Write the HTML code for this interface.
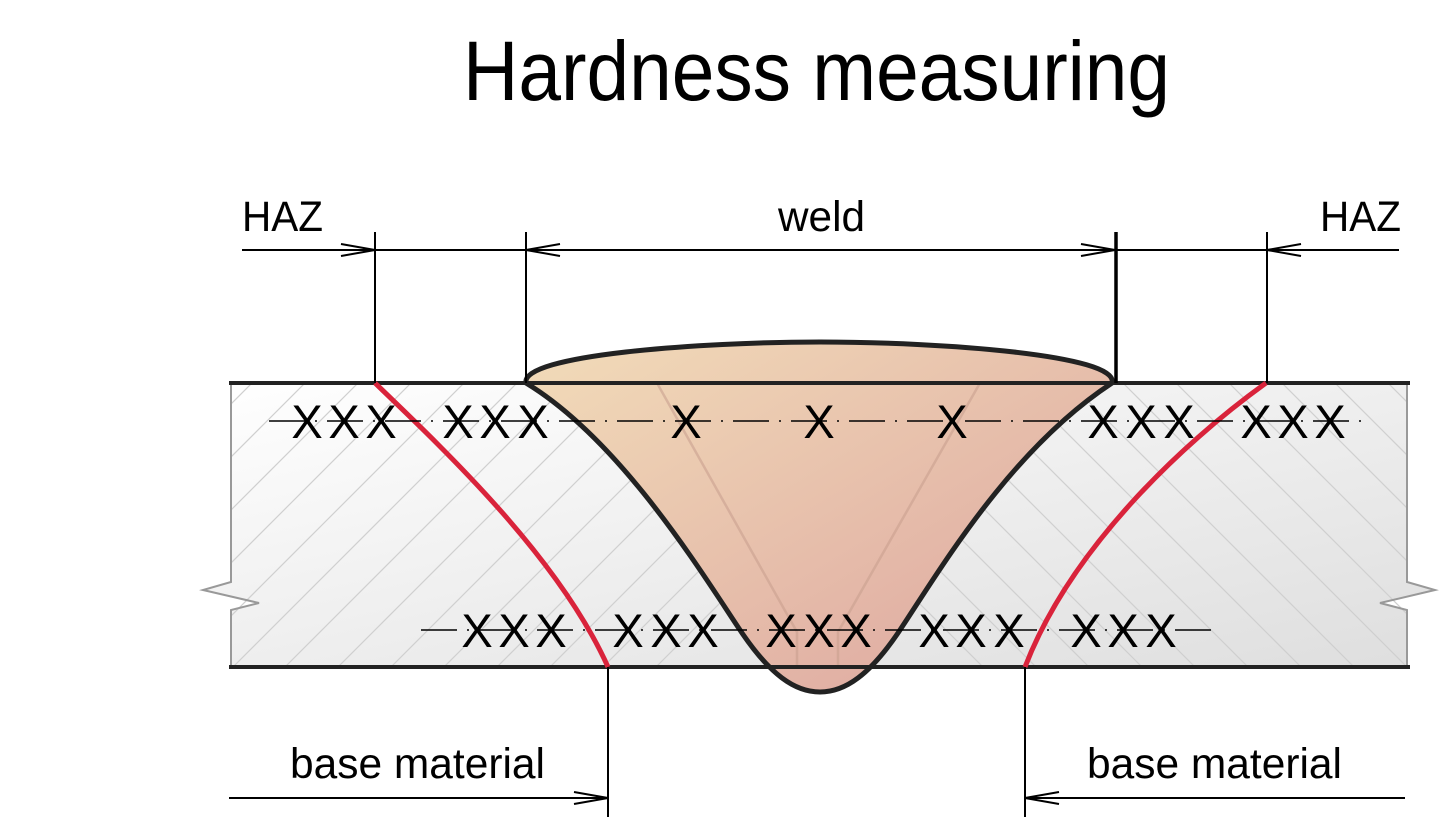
<!DOCTYPE html>
<html><head><meta charset="utf-8"><style>html,body{margin:0;padding:0;background:#fff}svg{display:block}</style></head>
<body>
<svg width="1449" height="835" viewBox="0 0 1449 835" xmlns="http://www.w3.org/2000/svg" font-family="'Liberation Sans', sans-serif">
<defs>
<linearGradient id="pg" x1="0" y1="0" x2="1" y2="1" gradientUnits="objectBoundingBox">
<stop offset="0" stop-color="#ffffff"/><stop offset="1" stop-color="#dedede"/></linearGradient>
<linearGradient id="wg" x1="0" y1="0" x2="1" y2="1">
<stop offset="0" stop-color="#f2dcb9"/><stop offset="1" stop-color="#dca39e"/></linearGradient>
<clipPath id="cl"><rect x="231" y="383" width="589" height="284"/></clipPath>
<clipPath id="cr"><rect x="820" y="383" width="588" height="284"/></clipPath>
</defs>
<!-- plate -->
<path d="M231,383 H1407 V582 L1435,590 L1380,603 L1407,610 V667 H231 V610 L259,603 L203,590 L231,582 Z" fill="url(#pg)"/>
<g stroke="#cfcfcf" stroke-width="1.2" clip-path="url(#cl)">
<path d="M180,720 L540,360 M232,720 L592,360 M285,720 L645,360 M338,720 L698,360 M391,720 L751,360 M444,720 L804,360 M497,720 L857,360 M550,720 L910,360 M603,720 L963,360 M127,720 L487,360 M74,720 L434,360 M21,720 L381,360 M-32,720 L328,360 M-85,720 L275,360"/>
</g>
<g stroke="#cfcfcf" stroke-width="1.2" clip-path="url(#cr)">
<path d="M1460,720 L1100,360 M1407,720 L1047,360 M1354,720 L994,360 M1301,720 L941,360 M1248,720 L888,360 M1195,720 L835,360 M1142,720 L782,360 M1089,720 L729,360 M1036,720 L676,360 M1513,720 L1153,360 M1566,720 L1206,360 M1619,720 L1259,360 M1672,720 L1312,360 M1725,720 L1365,360"/>
</g>
<path d="M231,383 V582 L203,590 L259,603 L231,610 V667 M1407,383 V582 L1435,590 L1380,603 L1407,610 V667" fill="none" stroke="#999" stroke-width="2"/>
<!-- weld -->
<path d="M526,383 C520,355 700,342 820,342 C940,342 1120,355 1112,383 C1010,450 940,570 900,630 C870,675 845,692 820,692 C795,692 770,675 740,630 C700,570 620,440 526,383 Z" fill="url(#wg)"/>
<path d="M526,383 H657 L797,632 V667 H838 V632 L980,383 H1112" fill="none" stroke="#c9a090" stroke-opacity="0.6" stroke-width="2.5"/>
<path d="M229,383 H1410 M229,667 H1410" stroke="#222" stroke-width="4"/>
<path d="M526,383 C520,355 700,342 820,342 C940,342 1120,355 1112,383 C1010,450 940,570 900,630 C870,675 845,692 820,692 C795,692 770,675 740,630 C700,570 620,440 526,383 Z" fill="none" stroke="#222" stroke-width="5"/>
<!-- red lines -->
<path d="M375,383 C450,455 560,560 608,667" fill="none" stroke="#d9233b" stroke-width="5"/>
<path d="M1266,383 C1180,445 1070,550 1025,667" fill="none" stroke="#d9233b" stroke-width="5"/>
<!-- center lines -->
<path d="M269,421 H1368" stroke="#000" stroke-width="1.6" stroke-dasharray="36 10 2 10"/>
<path d="M421,630 H1217" stroke="#000" stroke-width="1.6" stroke-dasharray="36 10 2 10"/>
<g font-size="47" text-anchor="middle" fill="#000">
<text x="307" y="438">X</text><text x="344" y="438">X</text><text x="381" y="438">X</text>
<text x="458" y="438">X</text><text x="495" y="438">X</text><text x="533" y="438">X</text>
<text x="686" y="438">X</text><text x="819" y="438">X</text><text x="952" y="438">X</text>
<text x="1103" y="438">X</text><text x="1141" y="438">X</text><text x="1179" y="438">X</text>
<text x="1256" y="438">X</text><text x="1293" y="438">X</text><text x="1330" y="438">X</text>
<text x="477" y="647">X</text><text x="514" y="647">X</text><text x="551" y="647">X</text>
<text x="628" y="647">X</text><text x="666" y="647">X</text><text x="703" y="647">X</text>
<text x="781" y="647">X</text><text x="819" y="647">X</text><text x="856" y="647">X</text>
<text x="934" y="647">X</text><text x="971" y="647">X</text><text x="1009" y="647">X</text>
<text x="1086" y="647">X</text><text x="1123" y="647">X</text><text x="1161" y="647">X</text>
</g>
<!-- dimensions -->
<g stroke="#000" stroke-width="2" fill="none">
<path d="M375,232 V383 M526,232 V383 M1267,232 V383 M608,667 V817 M1025,667 V817"/>
<path d="M1116,232 V383" stroke-width="3.5"/>
<path d="M242,250 H1399"/>
<path d="M341,244 L375,250 L341,256 M560,244 L526,250 L560,256 M1081,244 L1115,250 L1081,256 M1301,244 L1267,250 L1301,256"/>
<path d="M229,798 H608 M1025,798 H1405"/>
<path d="M574,792 L608,798 L574,804 M1059,792 L1025,798 L1059,804"/>
</g>
<g fill="#000">
<text x="463" y="100" font-size="84" textLength="707" lengthAdjust="spacingAndGlyphs">Hardness measuring</text>
<text x="242" y="231" font-size="43" textLength="81" lengthAdjust="spacingAndGlyphs">HAZ</text>
<text x="1320" y="231" font-size="43" textLength="81" lengthAdjust="spacingAndGlyphs">HAZ</text>
<text x="778" y="231" font-size="43" textLength="87" lengthAdjust="spacingAndGlyphs">weld</text>
<text x="290" y="778" font-size="43" textLength="255" lengthAdjust="spacingAndGlyphs">base material</text>
<text x="1087" y="778" font-size="43" textLength="255" lengthAdjust="spacingAndGlyphs">base material</text>
</g>
</svg>
</body></html>
